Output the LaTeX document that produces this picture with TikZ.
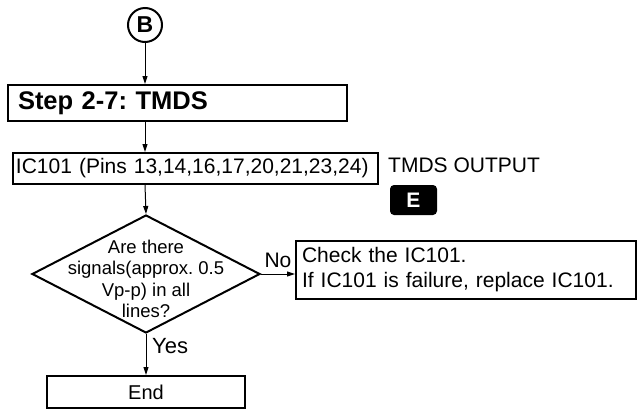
\documentclass[tikz,border=0pt]{standalone}
\usepackage{fontspec}
\setmainfont{Liberation Sans}
\usepackage{tikz}
\usetikzlibrary{shapes.geometric, arrows.meta, positioning}
\frenchspacing
\tikzset{
  stepbox/.style={rectangle, draw, line width=2pt, anchor=north west,
                  inner ysep=0pt, align=left, font=\fontsize{21}{23}\selectfont},
  decision/.style={diamond, draw, line width=2pt, inner sep=0pt,
                   minimum width=228pt, minimum height=118pt},
  conn/.style={circle, draw, line width=2pt, minimum size=34pt, inner sep=0pt,
               font=\fontsize{23}{23}\selectfont\bfseries},
  tag/.style={rectangle, fill=black, text=white, rounded corners=4pt,
              minimum width=47pt, minimum height=30pt, inner sep=0pt,
              font=\fontsize{21}{21}\selectfont\bfseries},
  arrow/.style={-{Triangle[length=8pt, width=5pt]}, line width=1pt},
  label/.style={font=\fontsize{21}{23}\selectfont, inner sep=0pt},
}

\begin{document}
\begin{tikzpicture}[x=1pt, y=-1pt]
  \useasboundingbox (0,0) rectangle (638,413);

  \node[conn] (b) at (145,25) {B};
  \node[stepbox, minimum width=339pt, minimum height=36pt, text width=319pt,
        inner xsep=10pt, font=\fontsize{25.5}{25.5}\selectfont\bfseries]
        (step) at (7,84) {Step 2-7: TMDS};
  \node[stepbox, minimum width=365pt, minimum height=31pt, text width=359pt,
        inner xsep=3pt] (ic) at (12,152) {IC101 (Pins 13,14,16,17,20,21,23,24)};
  \node[label, anchor=west] (out) at (388,165) {TMDS OUTPUT};
  \node[tag] (e) at (413.5,200) {E};
  \node[decision] (q) at (146,274) {};
  \node[label, align=center, font=\fontsize{18.5}{21.5}\selectfont] (qtext) at (146,279)
        {Are there\\signals(approx. 0.5\\Vp-p) in all\\lines?};
  \node[stepbox, minimum width=340pt, minimum height=58pt, text width=328pt,
        inner xsep=6pt, font=\fontsize{21}{25}\selectfont]
        (fix) at (295,240) {Check the IC101.\\If IC101 is failure, replace IC101.};
  \node[stepbox, anchor=north, minimum width=198pt, minimum height=32pt,
        align=center, font=\fontsize{20}{20}\selectfont] (end) at (146,375) {End};

  \draw[arrow] (b) -- (step.north -| b);
  \draw[arrow] (step.south -| b) -- (ic.north -| b);
  \draw[arrow] (ic.south -| b) -- (q.north);
  \draw[arrow] (q.south) -- (end.north);
  \draw[arrow] (q.east) -- (fix.west |- q.east)
    node[label, midway, above=6pt] {No};
  \node[label, anchor=west, font=\fontsize{22}{22}\selectfont] (yes) at (152,346) {Yes};
\end{tikzpicture}
\end{document}
